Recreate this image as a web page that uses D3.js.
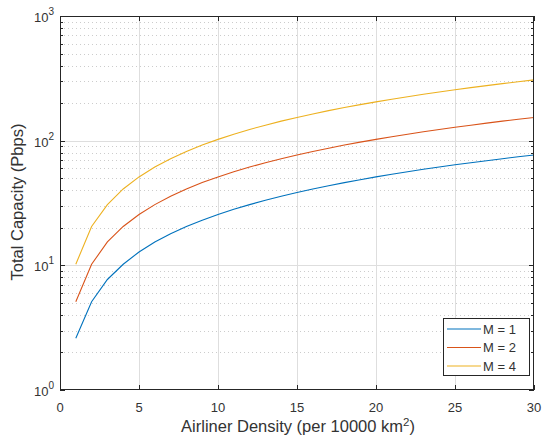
<!DOCTYPE html>
<html><head><meta charset="utf-8">
<script src="https://cdn.jsdelivr.net/npm/d3@7"></script>
<style>
body{margin:0;background:#fff;}
svg text{font-family:"Liberation Sans",Arial,Helvetica,sans-serif;fill:#333333;}
</style></head><body>
<svg id="c" width="544" height="441"></svg>
<script>
const density = [1,2,3,4,5,6,7,8,9,10,11,12,13,14,15,16,17,18,19,20,21,22,23,24,25,26,27,28,29,30];
const capM1 = [2.6,5.1,7.7,10.2,12.8,15.4,17.9,20.5,23.0,25.6,28.2,30.7,33.3,35.8,38.4,41.0,43.5,46.1,48.6,51.2,53.8,56.3,58.9,61.4,64.0,66.6,69.1,71.7,74.2,76.8];
const capM2 = [5.1,10.2,15.4,20.5,25.6,30.7,35.8,41.0,46.1,51.2,56.3,61.4,66.6,71.7,76.8,81.9,87.0,92.2,97.3,102.4,107.5,112.6,117.8,122.9,128.0,133.1,138.2,143.4,148.5,153.6];
const capM4 = [10.2,20.5,30.7,41.0,51.2,61.4,71.7,81.9,92.2,102.4,112.6,122.9,133.1,143.4,153.6,163.8,174.1,184.3,194.6,204.8,215.0,225.3,235.5,245.8,256.0,266.2,276.5,286.7,296.9,307.2];
const seriesNames = ["M = 1","M = 2","M = 4"];
const seriesColors = ["#0072BD","#D95319","#EDB120"];
const xTicks = [0,5,10,15,20,25,30];
const yTickExps = [0,1,2,3];

const svg = d3.select("#c");
const L=60, R=534, T=16, B=390;
const x = d3.scaleLinear().domain([0,30]).range([L,R]);
const y = d3.scaleLog().domain([1,1000]).range([B,T]);

const minors=[];
for (let e=0;e<3;e++) for (let k=2;k<=9;k++) minors.push(k*Math.pow(10,e));
svg.append("g").selectAll("line").data(minors).join("line")
  .attr("x1",L).attr("x2",R).attr("y1",d=>Math.round(y(d))+0.5).attr("y2",d=>Math.round(y(d))+0.5)
  .attr("stroke","#cccccc").attr("stroke-width",1).attr("stroke-dasharray","1,3");
svg.append("g").selectAll("line").data(xTicks.slice(1,-1)).join("line")
  .attr("x1",d=>Math.round(x(d))+0.5).attr("x2",d=>Math.round(x(d))+0.5).attr("y1",T).attr("y2",B)
  .attr("stroke","#dedede").attr("stroke-width",1);
svg.append("g").selectAll("line").data([10,100]).join("line")
  .attr("x1",L).attr("x2",R).attr("y1",d=>Math.round(y(d))+0.5).attr("y2",d=>Math.round(y(d))+0.5)
  .attr("stroke","#dedede").attr("stroke-width",1);

const data=[capM1,capM2,capM4];
const line = d3.line().x((d,i)=>x(density[i])).y(d=>y(d));
data.forEach((s,i)=>{
  svg.append("path").attr("d",line(s)).attr("fill","none")
    .attr("stroke",seriesColors[i]).attr("stroke-width",1.1);
});

const ax="#262626";
svg.append("rect").attr("x",L+0.5).attr("y",T+0.5).attr("width",R-L-1).attr("height",B-T-1)
  .attr("fill","none").attr("stroke",ax).attr("stroke-width",1);
const tl=5;
xTicks.forEach(t=>{
  const px=Math.round(x(t))+0.5;
  svg.append("line").attr("x1",px).attr("x2",px).attr("y1",B).attr("y2",B-tl).attr("stroke",ax);
  svg.append("line").attr("x1",px).attr("x2",px).attr("y1",T).attr("y2",T+tl).attr("stroke",ax);
  svg.append("text").attr("x",x(t)).attr("y",412).attr("text-anchor","middle").attr("font-size",13).text(t);
});
yTickExps.forEach(e=>{
  const py=Math.round(y(Math.pow(10,e)))+0.5;
  svg.append("line").attr("x1",L).attr("x2",L+tl).attr("y1",py).attr("y2",py).attr("stroke",ax);
  svg.append("line").attr("x1",R).attr("x2",R-tl).attr("y1",py).attr("y2",py).attr("stroke",ax);
  const t=svg.append("text").attr("x",L-6).attr("y",y(Math.pow(10,e))+6).attr("text-anchor","end").attr("font-size",13);
  t.append("tspan").text("10");
  t.append("tspan").attr("dy",-7).attr("font-size",10).text(e);
});
minors.forEach(v=>{
  const py=Math.round(y(v))+0.5;
  svg.append("line").attr("x1",L).attr("x2",L+3).attr("y1",py).attr("y2",py).attr("stroke",ax);
  svg.append("line").attr("x1",R).attr("x2",R-3).attr("y1",py).attr("y2",py).attr("stroke",ax);
});

const xl=svg.append("text").attr("x",(L+R)/2+1).attr("y",432).attr("text-anchor","middle").attr("font-size",16.5);
xl.append("tspan").text("Airliner Density (per 10000 km");
xl.append("tspan").attr("dy",-6).attr("font-size",11.5).text("2");
xl.append("tspan").attr("dy",6).text(")");
svg.append("text").attr("transform",`translate(23,${(T+B)/2-1}) rotate(-90)`).attr("text-anchor","middle")
  .attr("font-size",16.5).text("Total Capacity (Pbps)");

const lg=svg.append("g");
lg.append("rect").attr("x",443.5).attr("y",318.5).attr("width",86).attr("height",57)
  .attr("fill","#fff").attr("stroke",ax).attr("stroke-width",1);
seriesNames.forEach((n,i)=>{
  const ly=329+i*18.5;
  lg.append("line").attr("x1",447).attr("x2",481).attr("y1",ly).attr("y2",ly).attr("stroke",seriesColors[i]).attr("stroke-width",1.1);
  lg.append("text").attr("x",483).attr("y",ly+4.5).attr("font-size",13).text(n);
});
</script></body></html>
